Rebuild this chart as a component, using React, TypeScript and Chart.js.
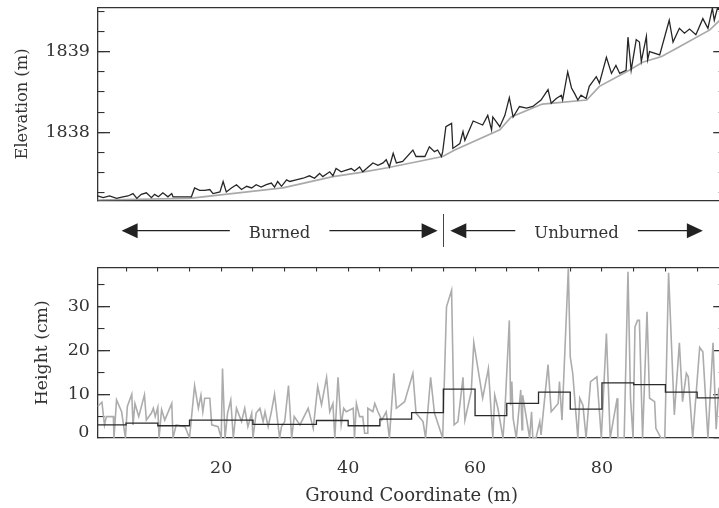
import React, { useEffect, useRef } from "react";
import { Chart, registerables } from "chart.js";

Chart.register(...registerables);

// ---------- data (ground coordinate in m) ----------
const X_MIN = 0.5;
const X_MAX = 99.5;

const ELEV_MIN = 1837.154;
const ELEV_MAX = 1839.548;
const elevTickLabels = [1838, 1839];

const HEIGHT_MIN = 0;
const HEIGHT_MAX = 39;
const heightTickLabels = [0, 10, 20, 30];
const distanceTickLabels = [20, 40, 60, 80];

// smooth ground surface (gray) [x, elevation]
const groundSurface: [number, number][] = [
  [0.5, 1837.16], [15, 1837.18], [29.7, 1837.31], [37.6, 1837.45], [41.8, 1837.5],
  [46.2, 1837.56], [54.9, 1837.7], [56.8, 1837.78], [63.9, 1838.03], [65.7, 1838.19],
  [70.6, 1838.35], [77.6, 1838.4], [79.6, 1838.57], [84.3, 1838.77], [86.4, 1838.87],
  [89.4, 1838.94], [92.2, 1839.06], [97.0, 1839.27], [99.5, 1839.46],
];

// first-return / vegetation surface (dark) [x, elevation]
const canopySurface: [number, number][] = [
  [0.5, 1837.21], [1.4, 1837.19], [2.4, 1837.21], [3.5, 1837.18], [4.5, 1837.2],
  [5.3, 1837.21], [6.1, 1837.24], [6.7, 1837.18], [7.4, 1837.23], [8.2, 1837.25],
  [9.0, 1837.19], [9.5, 1837.23], [10.1, 1837.2], [10.8, 1837.25], [11.6, 1837.2],
  [12.2, 1837.24], [12.4, 1837.2], [14.0, 1837.2], [15.3, 1837.2], [15.8, 1837.31],
  [16.6, 1837.28], [17.4, 1837.28], [18.2, 1837.29], [18.7, 1837.24], [19.8, 1837.26],
  [20.3, 1837.39], [20.8, 1837.26], [21.6, 1837.31], [22.4, 1837.35], [23.2, 1837.29],
  [24.0, 1837.33], [24.8, 1837.31], [25.5, 1837.35], [26.3, 1837.32], [27.1, 1837.35],
  [27.9, 1837.37], [28.4, 1837.32], [28.9, 1837.39], [29.5, 1837.33], [30.3, 1837.41],
  [30.8, 1837.39], [31.8, 1837.41], [32.9, 1837.43], [33.9, 1837.46], [34.7, 1837.43],
  [35.5, 1837.49], [36.0, 1837.45], [37.1, 1837.51], [37.6, 1837.46], [38.1, 1837.55],
  [38.9, 1837.51], [39.7, 1837.53], [40.5, 1837.55], [41.0, 1837.52], [41.8, 1837.57],
  [42.3, 1837.51], [42.9, 1837.55], [43.9, 1837.62], [44.7, 1837.59], [45.5, 1837.62],
  [46.0, 1837.66], [46.5, 1837.57], [47.1, 1837.74], [47.6, 1837.62], [48.6, 1837.64],
  [50.2, 1837.78], [50.7, 1837.7], [52.1, 1837.7], [52.8, 1837.82], [53.6, 1837.76],
  [54.1, 1837.78], [54.7, 1837.7], [54.9, 1837.76], [55.4, 1838.07], [56.3, 1838.11],
  [56.5, 1837.8], [57.6, 1837.86], [58.1, 1838.01], [58.4, 1837.9], [59.7, 1838.14],
  [61.2, 1838.09], [62.0, 1838.21], [62.6, 1838.03], [62.8, 1838.19], [63.9, 1838.07],
  [64.7, 1838.21], [65.4, 1838.43], [66.0, 1838.19], [67.0, 1838.32], [68.1, 1838.3],
  [69.1, 1838.32], [70.4, 1838.4], [71.5, 1838.53], [72.0, 1838.36], [72.8, 1838.42],
  [73.6, 1838.46], [73.8, 1838.4], [74.6, 1838.75], [75.2, 1838.55], [75.7, 1838.48],
  [76.2, 1838.4], [76.7, 1838.46], [77.5, 1838.42], [78.0, 1838.57], [79.1, 1838.69],
  [79.6, 1838.61], [80.7, 1838.93], [81.5, 1838.73], [82.2, 1838.83], [82.8, 1838.73],
  [83.8, 1838.77], [84.1, 1839.18], [84.6, 1838.77], [85.4, 1839.15], [85.9, 1839.12],
  [86.2, 1838.88], [87.0, 1839.19], [87.2, 1838.9], [87.5, 1839.0], [89.1, 1838.96],
  [90.6, 1839.39], [91.2, 1839.12], [92.2, 1839.29], [93.0, 1839.23], [93.8, 1839.28],
  [94.8, 1839.21], [95.9, 1839.41], [96.7, 1839.29], [97.4, 1839.54], [97.7, 1839.39],
  [98.2, 1839.54], [99.5, 1839.5],
];

// vegetation height (gray) [x, cm]
const vegetationHeight: [number, number][] = [
  [0.5, 7.2], [1.2, 8.2], [1.6, 3.0], [1.9, 4.9], [3.0, 4.9], [3.1, 0], [3.5, 8.7], [4.3, 6.0],
  [4.9, 0], [5.2, 7.2], [5.9, 10.0], [6.1, 3.0], [6.4, 7.9], [7.0, 4.9], [7.9, 9.9], [8.2, 4.1],
  [9.0, 5.7], [9.3, 6.8], [9.6, 4.9], [10.0, 7.0], [10.2, 0], [10.6, 6.5], [11.1, 4.1], [12.2, 7.9],
  [12.4, 0], [12.9, 3.0], [14.3, 2.6], [15.0, 0], [15.8, 12.0], [16.4, 6.8], [16.8, 9.8], [17.1, 6.0],
  [17.4, 9.1], [18.2, 9.1], [18.5, 3.0], [19.5, 2.6], [20.0, 0], [20.2, 15.9], [20.6, 0], [21.0, 5.7],
  [21.5, 8.7], [21.9, 0], [22.4, 6.8], [23.2, 3.75], [23.7, 6.8], [24.2, 2.6], [24.8, 5.7], [25.0, 0],
  [25.5, 5.7], [26.1, 6.8], [26.6, 3.75], [26.9, 6.0], [27.4, 2.6], [27.9, 6.0], [28.4, 10.0], [28.9, 3.75],
  [29.2, 0], [29.5, 2.6], [30.0, 3.75], [30.6, 12.0], [31.1, 0], [31.5, 4.9], [32.4, 3.0], [33.7, 6.8],
  [34.5, 2.2], [35.2, 11.8], [35.8, 7.6], [36.6, 13.9], [37.1, 6.0], [37.6, 7.9], [37.9, 0], [38.4, 13.9],
  [38.9, 3.0], [39.3, 6.8], [39.7, 6.0], [40.8, 6.8], [41.0, 0], [41.3, 7.9], [41.8, 4.9], [42.3, 4.9],
  [42.6, 1.1], [43.0, 1.1], [43.1, 6.8], [43.9, 6.0], [44.2, 7.9], [44.7, 6.0], [45.3, 4.1], [46.0, 6.0],
  [46.5, 0], [47.2, 14.8], [47.6, 6.8], [48.9, 8.3], [50.2, 14.8], [50.7, 5.7], [51.8, 3.75], [52.2, 0],
  [53.0, 13.9], [53.6, 5.7], [54.9, 0], [55.5, 30.0], [56.3, 33.8], [56.7, 3.0], [57.3, 3.75], [58.1, 13.9],
  [58.4, 4.1], [59.4, 10.6], [59.8, 21.8], [61.2, 9.1], [62.1, 15.9], [62.8, 0], [63.1, 9.8], [63.6, 6.8],
  [64.4, 0], [64.7, 6.0], [65.4, 26.9], [65.6, 7.5], [65.8, 12.9], [66.0, 4.5], [66.5, 0], [67.2, 11.0],
  [67.4, 1.9], [67.5, 9.8], [68.1, 4.5], [68.6, 0], [68.9, 6.0], [69.1, 0], [69.6, 0], [70.2, 3.75],
  [70.4, 0.7], [71.5, 16.8], [72.0, 6.0], [73.1, 7.9], [73.3, 12.9], [73.7, 4.1], [74.7, 38.8], [75.0, 18.6],
  [75.4, 14.7], [76.2, 0], [76.5, 9.1], [77.0, 7.5], [77.5, 0], [78.2, 12.9], [79.2, 14.0], [79.9, 0],
  [80.7, 23.9], [81.3, 0], [82.4, 9.1], [82.5, 0], [83.5, 0], [84.1, 38.0], [84.5, 9.1], [84.9, 0],
  [85.2, 25.4], [85.6, 26.9], [85.9, 26.9], [86.4, 0], [87.1, 28.9], [87.5, 9.1], [88.3, 8.3], [88.5, 2.2],
  [89.3, 0], [89.9, 0], [90.5, 37.8], [91.4, 5.3], [92.2, 21.8], [92.7, 8.3], [93.3, 14.8], [93.6, 14.0],
  [94.3, 0], [95.4, 20.7], [95.9, 19.7], [96.7, 0], [97.5, 21.8], [98.0, 2.0], [98.4, 11.0], [99.5, 8.0],
];

// 5 m segment means (black step line) [segment start, cm]
const segmentMeans: [number, number][] = [
  [0.5, 3.0], [5, 3.4], [10, 2.8], [15, 4.1], [20, 4.1], [25, 3.1], [30, 3.1], [35, 4.0],
  [40, 2.8], [45, 4.3], [50, 5.8], [55, 11.2], [60, 5.1], [65, 7.9], [70, 10.5], [75, 6.6],
  [80, 12.6], [85, 12.2], [90, 10.5], [95, 9.2], [99.5, 9.2],
];

// burned / unburned zones (arrow tips in ground coordinate)
const zoneLabels = ["Burned", "Unburned"];
const zoneStarts = [4.3, 56.1];
const zoneEnds = [54.1, 95.9];
const zoneBoundary = 55;

// ---------- styles ----------
const FONT = "'DejaVu Serif', serif";
const AXIS = "#333333";
const TEXT = "#333333";
const W = 740;
const TICK_FONT = { family: FONT, size: 17.5 };

const pts = (arr: [number, number][]) => arr.map(([x, y]) => ({ x, y }));
const axisBorder = { display: true, color: AXIS, width: 1.3 };
const label = (v: any) => String(v);

// fix an axis box size and drop the label overflow padding Chart.js adds
const fix = (w: number | null, h: number | null) => (s: any) => {
  if (w !== null) s.width = w;
  if (h !== null) s.height = h;
  s.paddingTop = 0;
  s.paddingBottom = 0;
  s.paddingLeft = 0;
  s.paddingRight = 0;
};

function yAxes(min: number, max: number, labelled: number[], baseLabel: number[], majorTicks: number[], minorStep: number,
  title: string, titleSize: number, titlePad: number) {
  return {
    y: {
      type: "linear", position: "left", weight: 1, min, max,
      afterBuildTicks: (s: any) => { s.ticks = labelled.map((value) => ({ value })); },
      ticks: { font: TICK_FONT, color: TEXT, padding: 20, callback: label },
      grid: { drawOnChartArea: false, drawTicks: true, tickLength: -12.5, color: AXIS, lineWidth: 1.3 },
      border: axisBorder,
      title: { display: true, text: title, font: { family: FONT, size: titleSize }, color: TEXT, padding: { top: titlePad, bottom: 0 } },
      afterFit: fix(97.5, null),
    },
    // the axis-minimum label sits a little above its tick, as in the original
    yBase: {
      type: "linear", position: "left", weight: 0, min, max, display: baseLabel.length > 0,
      afterBuildTicks: (s: any) => { s.ticks = baseLabel.map((value) => ({ value })); },
      ticks: { font: TICK_FONT, color: TEXT, mirror: true, padding: -19.3, labelOffset: -5.5, callback: label },
      grid: { display: false, drawTicks: false },
      border: { display: false },
      afterFit: fix(0, null),
    },
    yMinor: {
      type: "linear", position: "left", weight: 0, min, max,
      ticks: { display: false, stepSize: minorStep, includeBounds: false },
      grid: { drawOnChartArea: false, drawTicks: true, tickLength: -7, color: AXIS, lineWidth: 1.1 },
      border: { display: false },
      afterFit: fix(0, null),
    },
    yR: {
      type: "linear", position: "right", min, max,
      afterBuildTicks: (s: any) => { s.ticks = majorTicks.map((value) => ({ value })); },
      ticks: { display: false },
      grid: { drawOnChartArea: false, drawTicks: true, tickLength: -12.5, color: AXIS, lineWidth: 1.3 },
      border: axisBorder,
      afterFit: fix(0, null),
    },
    yRMinor: {
      type: "linear", position: "right", min, max,
      ticks: { display: false, stepSize: minorStep, includeBounds: false },
      grid: { drawOnChartArea: false, drawTicks: true, tickLength: -7, color: AXIS, lineWidth: 1.1 },
      border: { display: false },
      afterFit: fix(0, null),
    },
  };
}

const zonePlugin = {
  id: "zoneArrows",
  afterDraw(chart: any) {
    const { ctx, chartArea, scales } = chart;
    const xs = scales.x;
    const y = chartArea.top - 36.8;
    const head = 16;
    const half = 7.5;
    ctx.save();
    ctx.font = `16.5px ${FONT}`;
    ctx.textAlign = "center";
    ctx.textBaseline = "alphabetic";
    zoneLabels.forEach((text, i) => {
      const x0 = xs.getPixelForValue(zoneStarts[i]);
      const x1 = xs.getPixelForValue(zoneEnds[i]);
      const cx = (x0 + x1) / 2;
      const tw = ctx.measureText(text).width;
      ctx.strokeStyle = "#222";
      ctx.lineWidth = 1.2;
      ctx.beginPath();
      ctx.moveTo(x0 + head - 1, y);
      ctx.lineTo(cx - tw / 2 - 19, y);
      ctx.moveTo(cx + tw / 2 + 19, y);
      ctx.lineTo(x1 - head + 1, y);
      ctx.stroke();
      ctx.fillStyle = "#222";
      ctx.beginPath();
      ctx.moveTo(x0, y);
      ctx.lineTo(x0 + head, y - half);
      ctx.lineTo(x0 + head, y + half);
      ctx.closePath();
      ctx.fill();
      ctx.beginPath();
      ctx.moveTo(x1, y);
      ctx.lineTo(x1 - head, y - half);
      ctx.lineTo(x1 - head, y + half);
      ctx.closePath();
      ctx.fill();
      ctx.fillStyle = TEXT;
      ctx.fillText(text, cx, y + 7.5);
    });
    const bx = xs.getPixelForValue(zoneBoundary);
    ctx.strokeStyle = "#444";
    ctx.lineWidth = 1;
    ctx.beginPath();
    ctx.moveTo(Math.round(bx) + 0.5, chartArea.top - 53.5);
    ctx.lineTo(Math.round(bx) + 0.5, chartArea.top - 20.5);
    ctx.stroke();
    ctx.restore();
  },
};

export default function App() {
  const topRef = useRef<HTMLCanvasElement>(null);
  const botRef = useRef<HTMLCanvasElement>(null);

  useEffect(() => {
    const top = new Chart(topRef.current!, {
      type: "line",
      data: {
        datasets: [
          { data: pts(canopySurface), borderColor: "#262626", borderWidth: 1.3, pointRadius: 0, tension: 0 },
          { data: pts(groundSurface), borderColor: "#a9a9a9", borderWidth: 1.7, pointRadius: 0, tension: 0 },
        ],
      },
      options: {
        animation: false,
        responsive: false,
        devicePixelRatio: 1,
        layout: { padding: { top: 7.5, right: W - 725.7, left: 0, bottom: 0 } },
        plugins: { legend: { display: false }, tooltip: { enabled: false } },
        scales: {
          x: {
            type: "linear", position: "bottom", min: X_MIN, max: X_MAX,
            ticks: { display: false }, grid: { display: false }, border: axisBorder,
            afterFit: fix(null, 11.5),
          },
          xTop: {
            type: "linear", position: "top", min: X_MIN, max: X_MAX,
            ticks: { display: false }, grid: { display: false }, border: axisBorder,
            afterFit: fix(null, 0),
          },
          ...yAxes(ELEV_MIN, ELEV_MAX, elevTickLabels, [], elevTickLabels, 0.25, "Elevation (m)", 16.3, 13),
        } as any,
      },
    });

    const bot = new Chart(botRef.current!, {
      type: "line",
      data: {
        datasets: [
          { data: pts(segmentMeans), borderColor: "#2a2a2a", borderWidth: 1.3, pointRadius: 0, stepped: "before" },
          { data: pts(vegetationHeight), borderColor: "#acacac", borderWidth: 1.6, pointRadius: 0, tension: 0 },
        ],
      },
      options: {
        animation: false,
        responsive: false,
        devicePixelRatio: 1,
        layout: { padding: { top: 57.5, right: W - 725.7, left: 0, bottom: 0 } },
        plugins: { legend: { display: false }, tooltip: { enabled: false } },
        scales: {
          x: {
            type: "linear", position: "bottom", min: X_MIN, max: X_MAX,
            afterBuildTicks: (s: any) => { s.ticks = distanceTickLabels.map((value) => ({ value })); },
            ticks: { font: TICK_FONT, color: TEXT, padding: 12, maxRotation: 0, callback: label },
            grid: { display: false },
            border: axisBorder,
            title: { display: true, text: "Ground Coordinate (m)", font: { family: FONT, size: 18 }, color: TEXT, padding: { top: 0, bottom: 1 } },
            afterFit: fix(null, 70),
          },
          xTop: {
            type: "linear", position: "top", min: X_MIN, max: X_MAX,
            ticks: { display: false, stepSize: 5, includeBounds: false },
            grid: { drawOnChartArea: false, drawTicks: true, tickLength: -4, color: AXIS, lineWidth: 1.1 },
            border: axisBorder,
            afterFit: fix(null, 0),
          },
          ...yAxes(HEIGHT_MIN, HEIGHT_MAX, heightTickLabels.filter((v) => v !== HEIGHT_MIN),
            heightTickLabels.filter((v) => v === HEIGHT_MIN), heightTickLabels, 5, "Height (cm)", 17.3, 32),
        } as any,
      },
      plugins: [zonePlugin],
    });

    return () => {
      top.destroy();
      bot.destroy();
    };
  }, []);

  return (
    <div style={{ position: "absolute", left: 0, top: 0, width: 719, height: 508, overflow: "hidden", background: "#fff" }}>
      <canvas ref={topRef} width={W} height={212} style={{ position: "absolute", left: 0, top: 0, width: W, height: 212 }} />
      <canvas ref={botRef} width={W} height={298} style={{ position: "absolute", left: 0, top: 210, width: W, height: 298 }} />
    </div>
  );
}
